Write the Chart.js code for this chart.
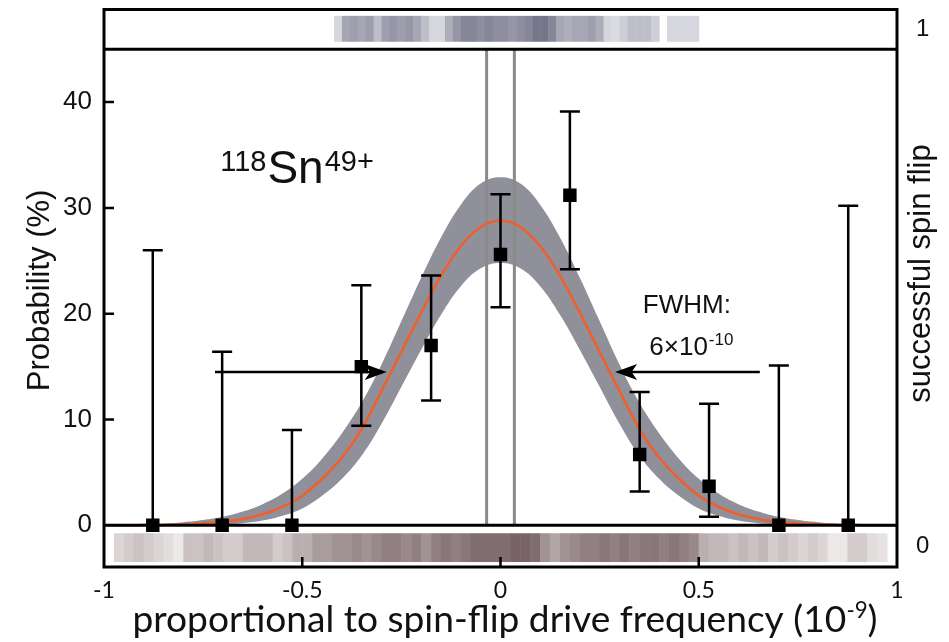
<!DOCTYPE html>
<html>
<head>
<meta charset="utf-8">
<script src="https://cdn.jsdelivr.net/npm/chart.js@4.4.0/dist/chart.umd.min.js"></script>
<style>
  html, body { margin: 0; padding: 0; background: #fff; }
  canvas { display: block; }
</style>
</head>
<body>
<canvas id="chart" width="949" height="642"></canvas>
<script>
// measured points (x in 1e-9, probability in %)
const pointX  = [-0.877, -0.702, -0.526, -0.351, -0.175, 0, 0.175, 0.351, 0.526, 0.702, 0.877];
const pointY  = [0, 0, 0, 15.0, 17.0, 25.6, 31.2, 6.7, 3.7, 0, 0];
const errHigh = [26.0, 16.4, 9.0, 22.7, 23.6, 31.3, 39.1, 12.6, 11.5, 15.1, 30.2];
const errLow  = [0, 0, 0, 9.4, 11.8, 20.6, 24.2, 3.2, 0.8, 0, 0];

// fitted line and its confidence band
const fitX = [-1, -0.95, -0.9, -0.85, -0.8, -0.75, -0.7, -0.65, -0.6, -0.55, -0.5, -0.45, -0.4, -0.35, -0.3, -0.25, -0.2, -0.15, -0.1, -0.05,
              0, 0.05, 0.1, 0.15, 0.2, 0.25, 0.3, 0.35, 0.4, 0.45, 0.5, 0.55, 0.6, 0.65, 0.7, 0.75, 0.8, 0.85, 0.9, 0.95, 1];
const fitY = [0, 0, 0.02, 0.04, 0.08, 0.17, 0.33, 0.6, 1.05, 1.75, 2.8, 4.4, 6.4, 9.1, 12.7, 16.4, 20.1, 23.6, 26.4, 28.2,
              28.8, 28.2, 26.4, 23.6, 20.1, 16.4, 12.7, 9.1, 6.4, 4.4, 2.8, 1.75, 1.05, 0.6, 0.33, 0.17, 0.08, 0.04, 0.02, 0, 0];
const bandHigh = [0, 0.02, 0.07, 0.15, 0.3, 0.5, 0.8, 1.3, 2.0, 3.0, 4.4, 6.3, 8.7, 11.6, 15.2, 19.3, 23.4, 27.2, 30.3, 32.3,
                  32.9, 32.3, 30.3, 27.2, 23.4, 19.3, 15.2, 11.6, 8.7, 6.3, 4.4, 3.0, 2.0, 1.3, 0.8, 0.5, 0.3, 0.15, 0.07, 0.02, 0];
const bandLow  = [0, 0, 0, 0, 0, 0.03, 0.08, 0.2, 0.45, 0.9, 1.6, 2.8, 4.4, 6.6, 9.6, 13.1, 16.6, 19.9, 22.6, 24.3,
                  24.8, 24.3, 22.6, 19.9, 16.6, 13.1, 9.6, 6.6, 4.4, 2.8, 1.6, 0.9, 0.45, 0.2, 0.08, 0.03, 0, 0, 0, 0, 0];

// resonance centre markers
const centreLines = [-0.035, 0.035];

// FWHM arrows
const arrowY = 14.5;
const arrowFrom = [-0.72, 0.654];
const arrowTo = [-0.287, 0.289];

// spin-flip strips: darkness per bin (0 = white, 1 = darkest)
const topStripStart = -0.42, topStripStep = 0.02;
const topStrip = [0.15, 0.45, 0.5, 0.45, 0.5, 0.3, 0.5, 0.55, 0.5, 0.55, 0.45, 0.3, 0.15, 0.15, 0.4, 0.55,
                  0.65, 0.65, 0.6, 0.65, 0.6, 0.6, 0.55, 0.6, 0.65, 0.75, 0.75, 0.65, 0.45, 0.4, 0.45, 0.45,
                  0.5, 0.4, 0.15, 0.12, 0.2, 0.3, 0.3, 0.3, 0.2, 0, 0.15, 0.15, 0.15, 0.15];
const bottomStripStart = -0.975, bottomStripStep = 0.025;
const bottomStrip = [0.15, 0.2, 0.25, 0.2, 0.15, 0.1, 0.05, 0.25, 0.25, 0.3, 0.25, 0.2, 0.2, 0.3, 0.3, 0.3,
                     0.2, 0.25, 0.35, 0.35, 0.45, 0.45, 0.5, 0.5, 0.55, 0.5, 0.55, 0.6, 0.6, 0.55, 0.6, 0.5,
                     0.6, 0.65, 0.6, 0.65, 0.7, 0.7, 0.7, 0.7, 0.75, 0.75, 0.7, 0.5, 0.4, 0.5, 0.55, 0.6,
                     0.6, 0.65, 0.6, 0.65, 0.6, 0.65, 0.65, 0.6, 0.65, 0.6, 0.55, 0.35, 0.3, 0.3, 0.25, 0.3,
                     0.25, 0.3, 0.2, 0.25, 0.2, 0.15, 0.2, 0.15, 0.05, 0.05, 0.2, 0.2, 0.1, 0.08];

const yTicks = [0, 10, 20, 30, 40];
const xTickMarks = [-0.5, 0, 0.5];

const SANS = "'Liberation Sans', Arial, sans-serif";
const CAL = "Lato, 'Open Sans', sans-serif";

function mix(a, b, t) {
  return 'rgb(' + a.map((v, i) => Math.round(v + (b[i] - v) * t)).join(',') + ')';
}

function drawStrip(ctx, x, y, vals, start, step, y0, y1, light, dark) {
  const top = y.getPixelForValue(y1), bot = y.getPixelForValue(y0);
  vals.forEach((d, i) => {
    if (d <= 0) return;
    const l = x.getPixelForValue(start + i * step);
    const r = x.getPixelForValue(start + (i + 1) * step);
    ctx.fillStyle = mix(light, dark, d);
    ctx.fillRect(l, top, r - l + 0.5, bot - top);
  });
}

const decor = {
  id: 'decor',
  beforeDatasetsDraw(chart) {
    const { ctx, scales: { x, y } } = chart;
    ctx.save();
    drawStrip(ctx, x, y, topStrip, topStripStart, topStripStep, 45.7, 48.15, [238, 238, 243], [78, 78, 104]);
    drawStrip(ctx, x, y, bottomStrip, bottomStripStart, bottomStripStep, -3.47, -0.75, [244, 241, 241], [78, 52, 55]);
    ctx.restore();
  },
  afterDatasetsDraw(chart) {
    const { ctx, chartArea: a, scales: { x, y } } = chart;
    ctx.save();
    ctx.strokeStyle = '#000';
    ctx.fillStyle = '#000';

    // error bars
    ctx.lineWidth = 2.5;
    pointX.forEach((v, i) => {
      const px = x.getPixelForValue(v);
      const t = y.getPixelForValue(errHigh[i]);
      const b = y.getPixelForValue(errLow[i]);
      ctx.beginPath();
      ctx.moveTo(px, t); ctx.lineTo(px, b);
      ctx.moveTo(px - 10, t); ctx.lineTo(px + 10, t);
      if (errLow[i] > 0) { ctx.moveTo(px - 10, b); ctx.lineTo(px + 10, b); }
      ctx.stroke();
    });

    // frame, separators, inner ticks
    ctx.lineWidth = 3;
    ctx.strokeRect(a.left, a.top, a.right - a.left, a.bottom - a.top);
    ctx.beginPath();
    const y45 = y.getPixelForValue(45), y0 = y.getPixelForValue(0);
    ctx.moveTo(a.left, y45); ctx.lineTo(a.right, y45);
    ctx.moveTo(a.left, y0); ctx.lineTo(a.right, y0);
    ctx.stroke();
    ctx.lineWidth = 2.5;
    ctx.beginPath();
    yTicks.forEach(v => {
      if (v === 0) return;
      const py = y.getPixelForValue(v);
      ctx.moveTo(a.left, py); ctx.lineTo(a.left + 10, py);
    });
    xTickMarks.forEach(v => {
      const px = x.getPixelForValue(v);
      ctx.moveTo(px, a.bottom); ctx.lineTo(px, a.bottom - 10);
    });
    ctx.stroke();

    // FWHM arrows
    const ay = y.getPixelForValue(arrowY);
    arrowFrom.forEach((f, i) => {
      const p0 = x.getPixelForValue(f), p1 = x.getPixelForValue(arrowTo[i]);
      const dir = Math.sign(p1 - p0);
      const head = 22;
      ctx.lineWidth = 2.5;
      ctx.beginPath();
      ctx.moveTo(p0, ay); ctx.lineTo(p1 - dir * head * 0.6, ay);
      ctx.stroke();
      ctx.beginPath();
      ctx.moveTo(p1, ay);
      ctx.lineTo(p1 - dir * head, ay - 8);
      ctx.lineTo(p1 - dir * head * 0.75, ay);
      ctx.lineTo(p1 - dir * head, ay + 8);
      ctx.closePath();
      ctx.fill();
    });

    // isotope label
    ctx.fillStyle = '#111';
    ctx.textBaseline = 'alphabetic';
    ctx.textAlign = 'left';
    let tx = x.getPixelForValue(-0.707);
    const base = y.getPixelForValue(32.35);
    ctx.font = '29px ' + SANS;
    ctx.fillText('118', tx, base - 12);
    tx += ctx.measureText('118').width + 1;
    ctx.font = '46px ' + SANS;
    ctx.fillText('Sn', tx, base);
    tx += ctx.measureText('Sn').width + 1;
    ctx.font = '29px ' + SANS;
    ctx.fillText('49+', tx, base - 12);

    // FWHM text
    const fx = x.getPixelForValue(0.47);
    ctx.textAlign = 'center';
    ctx.font = '26px ' + SANS;
    ctx.fillText('FWHM:', fx, y.getPixelForValue(20.1));
    ctx.textAlign = 'left';
    const b2 = y.getPixelForValue(16.05);
    const w1 = ctx.measureText('6\u00d710').width;
    ctx.font = '17px ' + SANS;
    const w2 = ctx.measureText('-10').width;
    let sx = fx - (w1 + w2) / 2 + 4;
    ctx.font = '26px ' + SANS;
    ctx.fillText('6\u00d710', sx, b2);
    ctx.font = '17px ' + SANS;
    ctx.fillText('-10', sx + w1 + 1, b2 - 10);

    // axis titles
    ctx.textAlign = 'center';
    ctx.textBaseline = 'middle';
    ctx.font = '31px ' + SANS;
    ctx.save();
    ctx.translate(40, y.getPixelForValue(22.2));
    ctx.rotate(-Math.PI / 2);
    ctx.fillText('Probability (%)', 0, 0);
    ctx.restore();
    ctx.save();
    ctx.translate(921, y.getPixelForValue(23.8));
    ctx.rotate(-Math.PI / 2);
    ctx.fillText('successful spin flip', 0, 0);
    ctx.restore();

    // x title with superscript, fitted to the figure width
    const main = 'proportional to spin-flip drive frequency (10';
    ctx.font = '30px ' + CAL;
    const m = ctx.measureText(main).width;
    ctx.font = '18px ' + CAL;
    const s = ctx.measureText('-9').width;
    ctx.font = '30px ' + CAL;
    const c = ctx.measureText(')').width;
    const k = 745 / (m + s + c);
    const fs = 30 * k;
    let xx = (a.left + a.right) / 2 + 4 - 372;
    const yb = 632;
    ctx.textAlign = 'left';
    ctx.textBaseline = 'alphabetic';
    ctx.font = fs + 'px ' + CAL;
    ctx.fillText(main, xx, yb);
    xx += m * k;
    ctx.font = (18 * k) + 'px ' + CAL;
    ctx.fillText('-9', xx, yb - fs * 0.38);
    xx += s * k;
    ctx.font = fs + 'px ' + CAL;
    ctx.fillText(')', xx, yb);

    ctx.restore();
  }
};

const ds = (xs, ys) => xs.map((v, i) => ({ x: v, y: ys[i] }));

function fixWidth(w) {
  return s => { s.width = w; s.paddingTop = 0; s.paddingBottom = 0; };
}

new Chart(document.getElementById('chart'), {
  type: 'line',
  data: {
    datasets: [
      { data: ds(fitX, bandLow), borderWidth: 0, pointRadius: 0, fill: false, tension: 0.4, order: 5 },
      { data: ds(fitX, bandHigh), borderWidth: 0, pointRadius: 0, fill: '-1',
        backgroundColor: '#8f9099', tension: 0.4, order: 4 },
      { data: [{ x: centreLines[0], y: 0 }, { x: centreLines[0], y: 45 }], borderColor: '#8a8a8a',
        borderWidth: 3, pointRadius: 0, order: 3 },
      { data: [{ x: centreLines[1], y: 0 }, { x: centreLines[1], y: 45 }], borderColor: '#8a8a8a',
        borderWidth: 3, pointRadius: 0, order: 3 },
      { data: ds(fitX, fitY), borderColor: '#f25e2a', borderWidth: 2.5, pointRadius: 0,
        tension: 0.4, cubicInterpolationMode: 'monotone', order: 2 },
      { type: 'scatter', data: ds(pointX, pointY), pointStyle: 'rect', pointRadius: 9.5,
        backgroundColor: '#000', borderColor: '#000', borderWidth: 0, order: 1 }
    ]
  },
  options: {
    responsive: false,
    animation: false,
    devicePixelRatio: 1,
    layout: { padding: { top: 5, left: 0, right: 0, bottom: 0 } },
    plugins: { legend: { display: false }, tooltip: { enabled: false } },
    scales: {
      x: {
        type: 'linear', position: 'bottom', min: -1, max: 1,
        grid: { display: false, drawTicks: false }, border: { display: false },
        ticks: { stepSize: 0.5, padding: 10, color: '#111', font: { family: CAL, size: 23 },
                 maxRotation: 0, callback: v => String(v) },
        afterFit: s => { s.height = 75; s.paddingLeft = 0; s.paddingRight = 0; }
      },
      y: {
        position: 'left', min: -3.94, max: 48.75,
        grid: { display: false, drawTicks: false }, border: { display: false },
        ticks: { padding: 12, color: '#111', font: { family: SANS, size: 26 } },
        afterBuildTicks: s => { s.ticks = yTicks.map(v => ({ value: v })); },
        afterFit: fixWidth(104)
      },
      y2: {
        position: 'right', min: -3.94, max: 48.75,
        grid: { display: false, drawTicks: false }, border: { display: false },
        ticks: { padding: 19, color: '#111', font: { family: SANS, size: 24 },
                 callback: v => (v > 20 ? '1' : '0') },
        afterBuildTicks: s => { s.ticks = [{ value: -2.0 }, { value: 46.9 }]; },
        afterFit: fixWidth(52)
      }
    }
  },
  plugins: [decor]
});
</script>
</body>
</html>
